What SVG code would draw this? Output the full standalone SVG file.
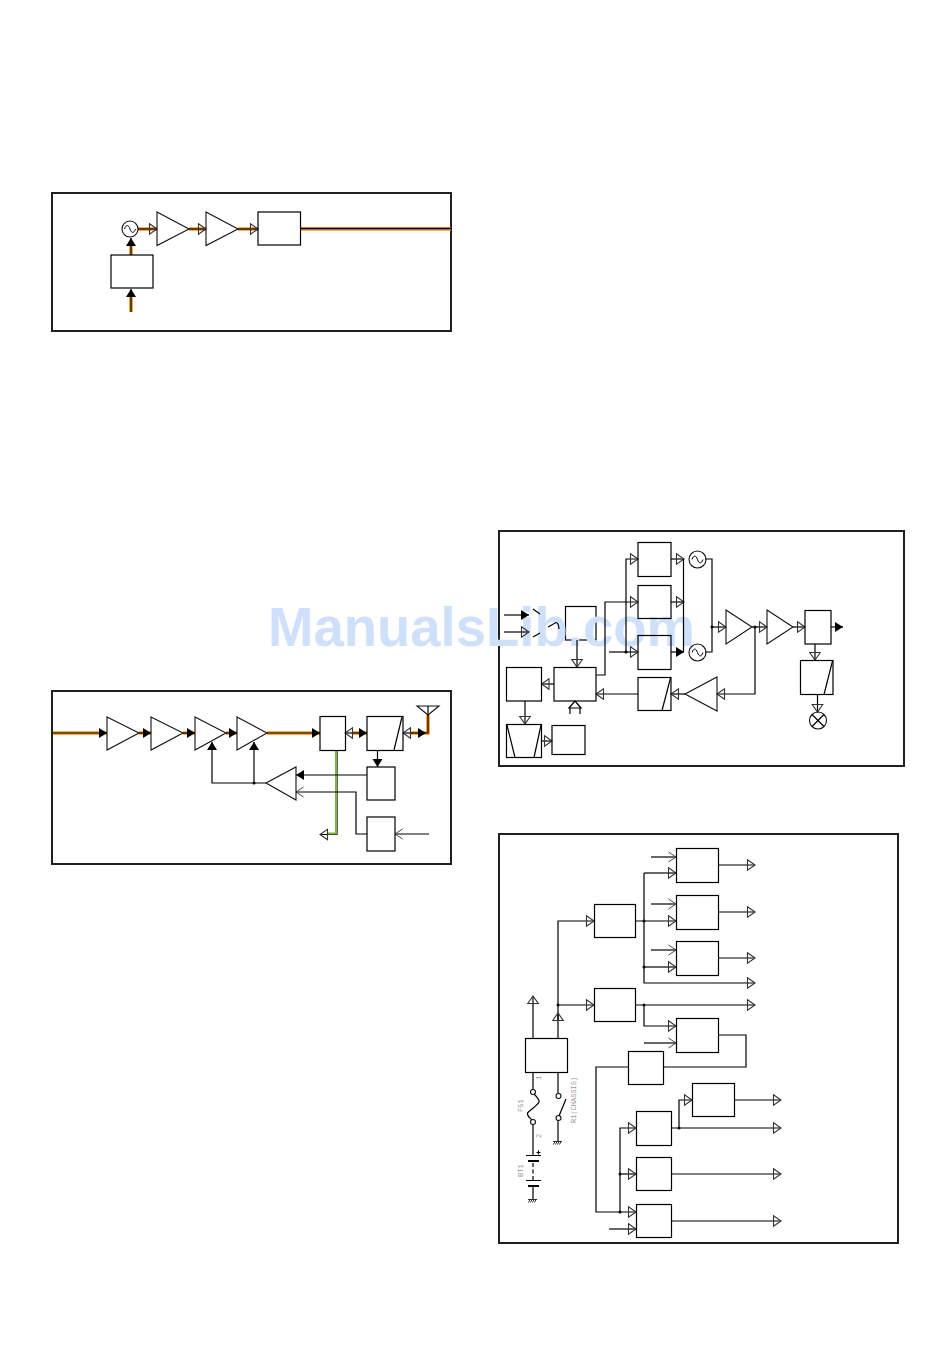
<svg xmlns="http://www.w3.org/2000/svg" width="950" height="1360" viewBox="0 0 950 1360">
<style>
.frame{fill:none;stroke:#231f20;stroke-width:2}
.b{fill:none;stroke:#000;stroke-width:1.2}
.w{fill:none;stroke:#111;stroke-width:1.1}
.c{fill:none;stroke:#000;stroke-width:1.2}
.k{fill:none;stroke:#000;stroke-width:1.5}
.o{fill:none;stroke:#f8921e;stroke-width:3.6}
.g{fill:none;stroke:#7cb342;stroke-width:2}
.d{fill:#000;stroke:none}
.t{font-family:"Liberation Mono",monospace;font-size:7px;fill:#999}
.wm{font-family:"Liberation Sans",Arial,sans-serif;font-weight:700;font-size:56px;fill:#cfe1fa}
</style>
<defs>
<marker id="h" markerUnits="userSpaceOnUse" markerWidth="11" markerHeight="13" refX="8.5" refY="6.500" orient="auto" overflow="visible"><path d="M1,1.200L8.500,6.500L1,11.800Z" fill="none" stroke="#333" stroke-width="1.1"/></marker>
<marker id="s" markerUnits="userSpaceOnUse" markerWidth="11" markerHeight="13" refX="8.5" refY="6.500" orient="auto" overflow="visible"><path d="M0.500,1.500L8.500,6.500L0.500,11.500Z" fill="#000"/></marker>
<marker id="e" markerUnits="userSpaceOnUse" markerWidth="11" markerHeight="13" refX="8.5" refY="6.500" orient="auto" overflow="visible"><path d="M1,1.500L8.500,6.500L1,11.500" fill="none" stroke="#444" stroke-width="1"/></marker>
<path id="gnd" d="M-4.500,0H4.500M-4,3L-2.500,0M-2,3L-0.500,0M0,3L1.500,0M2,3L3.500,0" fill="none" stroke="#000" stroke-width="0.8"/>
<path id="sine" d="M-5.500,0C-4,-4.500 -1.500,-4.500 0,0S4,4.500 5.500,0" fill="none" stroke="#000" stroke-width="1"/>
</defs>

<g id="frames">
<rect class="frame" x="52" y="193" width="399" height="138"/>
<rect class="frame" x="52" y="691" width="399" height="173"/>
<rect class="frame" x="499" y="531" width="405" height="235"/>
<rect class="frame" x="499" y="834" width="399" height="409"/>
</g>
<g id="p3-mixer-switch-box"><rect class="b" x="565.500" y="606.500" width="30.500" height="33.500"/></g>
<text class="wm" x="268" y="645.500" textLength="427" lengthAdjust="spacingAndGlyphs">ManualsLib.com</text>

<g id="connectors">
<!-- panel 1 -->
<path class="o" d="M131,312V297M131,255V245M138,229H157M189,229H206M238,229H258M300,229H451"/>
<path class="c" d="M131,312V289" marker-end="url(#s)"/>
<path class="c" d="M131,255V238" marker-end="url(#s)"/>
<path class="c" d="M138,229H157" marker-end="url(#h)"/>
<path class="c" d="M189,229H206" marker-end="url(#h)"/>
<path class="c" d="M238,229H258" marker-end="url(#h)"/>
<path class="k" d="M300.500,228.500H451"/>
<!-- panel 2 -->
<path class="o" d="M53,733H107M139,733H151M183,733H195M226,733H237M267,733H320M353,733H367M411,733H428V715"/>
<path class="c" d="M53,733H107" marker-end="url(#s)"/>
<path class="c" d="M139,733H151" marker-end="url(#s)"/>
<path class="c" d="M183,733H195" marker-end="url(#s)"/>
<path class="c" d="M226,733H237" marker-end="url(#s)"/>
<path class="c" d="M267,733H320" marker-end="url(#s)"/>
<path class="c" d="M353,733H367" marker-end="url(#s)"/>
<path class="c" d="M353,733H345" marker-end="url(#h)"/>
<path class="c" d="M411,733H403" marker-end="url(#h)"/>
<path class="c" d="M411,733H426" marker-end="url(#s)"/>
<path class="c" d="M426,733H428V715"/>
<path class="c" d="M337,750V834.500H320" marker-end="url(#h)"/>
<path class="g" d="M336,750V833.500H328"/>
<path class="c" d="M377.500,750V767" marker-end="url(#s)"/>
<path class="c" d="M367,775H296" marker-end="url(#s)"/>
<path class="c" d="M266,783H212V742" marker-end="url(#s)"/>
<path class="c" d="M254,783V742" marker-end="url(#s)"/>
<circle class="d" cx="254" cy="783" r="1.500"/>
<path class="c" d="M367,834H356V792H296" marker-end="url(#e)"/>
<path class="c" d="M429,834H395" marker-end="url(#e)"/>
<!-- panel 3 -->
<path class="c" d="M504,615H529" marker-end="url(#s)"/>
<path class="c" d="M504,632H529" marker-end="url(#h)"/>
<path class="c" d="M533,609L540,614M533,637L540,633M548,627L556,622.500Q558.500,622.500 559,629"/>
<path class="c" d="M577,640V667" marker-end="url(#h)"/>
<path class="c" d="M596,675H605V602H638" marker-end="url(#h)"/>
<path class="c" d="M626,652V559H638" marker-end="url(#h)"/>
<path class="c" d="M609,652H638" marker-end="url(#h)"/>
<circle class="d" cx="626" cy="652" r="1.500"/>
<path class="c" d="M671,559H684" marker-end="url(#h)"/>
<path class="c" d="M671,602H684" marker-end="url(#h)"/>
<path class="c" d="M671,652H684" marker-end="url(#s)"/>
<path class="c" d="M683.500,559V652"/>
<path class="c" d="M705,559H712V652H705"/>
<path class="c" d="M712,627H726" marker-end="url(#h)"/>
<circle class="d" cx="712" cy="627" r="1.500"/>
<path class="c" d="M752,627H767" marker-end="url(#h)"/>
<circle class="d" cx="755" cy="627" r="1.500"/>
<path class="c" d="M793,627H805" marker-end="url(#h)"/>
<path class="c" d="M831,627H843" marker-end="url(#s)"/>
<path class="c" d="M815,644V660" marker-end="url(#h)"/>
<path class="c" d="M817.500,694V712" marker-end="url(#h)"/>
<path class="c" d="M755,627V694H717" marker-end="url(#h)"/>
<path class="c" d="M685,694H671" marker-end="url(#h)"/>
<path class="c" d="M638,694H596" marker-end="url(#h)"/>
<path class="c" d="M554,684H541.500" marker-end="url(#h)"/>
<path class="c" d="M525,701V724" marker-end="url(#h)"/>
<path class="c" d="M541.500,741H552" marker-end="url(#h)"/>
<path class="c" d="M570,714V708M580,714V708M569,708L575,701L581,708Z"/>
<!-- panel 4 -->
<path class="c" d="M651,857H676" marker-end="url(#e)"/>
<path class="c" d="M651,904H676" marker-end="url(#e)"/>
<path class="c" d="M651,950H676" marker-end="url(#e)"/>
<path class="c" d="M644,873H676" marker-end="url(#h)"/>
<path class="c" d="M635,921H676" marker-end="url(#h)"/>
<path class="c" d="M644,967H676" marker-end="url(#h)"/>
<path class="c" d="M644,873V983H755" marker-end="url(#h)"/>
<circle class="d" cx="644" cy="921" r="1.500"/>
<circle class="d" cx="644" cy="967" r="1.500"/>
<path class="c" d="M718,865H755" marker-end="url(#h)"/>
<path class="c" d="M718,912H755" marker-end="url(#h)"/>
<path class="c" d="M718,958H755" marker-end="url(#h)"/>
<path class="c" d="M558,1038V921H594" marker-end="url(#h)"/>
<path class="c" d="M558,1005H594" marker-end="url(#h)"/>
<circle class="d" cx="558" cy="1005" r="1.500"/>
<path class="c" d="M635,1005H755" marker-end="url(#h)"/>
<circle class="d" cx="644" cy="1005" r="1.500"/>
<path class="c" d="M644,1005V1026H676" marker-end="url(#h)"/>
<path class="c" d="M644,1043H676" marker-end="url(#e)"/>
<path class="c" d="M718,1035H746V1067H664"/>
<path class="c" d="M628,1067H596V1212H636" marker-end="url(#h)"/>
<path class="c" d="M620,1212V1128H636" marker-end="url(#h)"/>
<path class="c" d="M620,1174H636" marker-end="url(#h)"/>
<path class="c" d="M609,1229H636" marker-end="url(#h)"/>
<circle class="d" cx="620" cy="1174" r="1.500"/>
<circle class="d" cx="620" cy="1212" r="1.500"/>
<path class="c" d="M672,1128H781" marker-end="url(#h)"/>
<circle class="d" cx="679" cy="1128" r="1.500"/>
<path class="c" d="M679,1128V1100H692" marker-end="url(#h)"/>
<path class="c" d="M734,1100H781" marker-end="url(#h)"/>
<path class="c" d="M672,1174H781" marker-end="url(#h)"/>
<path class="c" d="M672,1221H781" marker-end="url(#h)"/>
<path class="c" d="M533,1038V996" marker-end="url(#h)"/>
<path class="c" d="M558,1021V1013" marker-end="url(#h)"/>
<path class="c" d="M533,1072V1089.500M533,1124.500V1155M533,1186V1199M558,1072V1093.500M558,1120.500V1141"/>
<path class="c" d="M533,1163V1180" stroke-dasharray="4 2.500"/>
</g>

<g id="p1-osc"><circle class="w" cx="130" cy="229" r="8"/><use href="#sine" x="130" y="229"/></g>
<g id="p1-ctrl"><rect class="b" x="111" y="255" width="42" height="33"/></g>
<g id="p1-amp1"><polygon class="w" points="157,212 189,229 157,245.500"/></g>
<g id="p1-amp2"><polygon class="w" points="206,212 238,229 206,245.500"/></g>
<g id="p1-out"><rect class="b" x="258" y="212" width="42.500" height="33"/></g>

<g id="p2-amp1"><polygon class="w" points="107,717 139,733 107,750"/></g>
<g id="p2-amp2"><polygon class="w" points="151,717 183,733 151,750"/></g>
<g id="p2-amp3"><polygon class="w" points="195,717 226,733 195,750"/></g>
<g id="p2-amp4"><polygon class="w" points="237,717 267,733 237,750"/></g>
<g id="p2-switch"><rect class="b" x="320" y="716.500" width="25.500" height="34"/></g>
<g id="p2-filter"><rect class="b" x="367" y="716.500" width="36" height="34"/><path class="c" d="M402,717L394,750"/></g>
<g id="p2-antenna"><polygon class="w" points="417,706 439,706 428,715"/><path class="c" d="M428,706V715"/></g>
<g id="p2-det"><rect class="b" x="367" y="767" width="28" height="33"/></g>
<g id="p2-apc"><polygon class="w" points="266,783 296,767 296,800"/></g>
<g id="p2-ctl"><rect class="b" x="367" y="817" width="28" height="34"/></g>

<g id="p3-a"><rect class="b" x="638" y="542.500" width="33" height="34"/></g>
<g id="p3-b"><rect class="b" x="638" y="585.500" width="33" height="33"/></g>
<g id="p3-c"><rect class="b" x="638" y="635.500" width="33" height="34"/></g>
<g id="p3-osc1"><circle class="w" cx="697.500" cy="559.500" r="8.500"/><use href="#sine" x="697.500" y="559.500"/></g>
<g id="p3-osc2"><circle class="w" cx="697.500" cy="652.500" r="8.500"/><use href="#sine" x="697.500" y="652.500"/></g>
<g id="p3-d"><rect class="b" x="554" y="667.500" width="42" height="33.500"/></g>
<g id="p3-e"><rect class="b" x="506.500" y="667.500" width="35" height="33.500"/></g>
<g id="p3-f"><rect class="b" x="506.500" y="724.500" width="35" height="33"/><path class="c" d="M507,725L515,757.500M541,725L534,757.500"/></g>
<g id="p3-g"><rect class="b" x="552" y="725.500" width="33" height="29"/></g>
<g id="p3-h"><rect class="b" x="638" y="677.500" width="33" height="33"/><path class="c" d="M670.500,678L662,710.500"/></g>
<g id="p3-amp-fb"><polygon class="w" points="685,694 717,677 717,711"/></g>
<g id="p3-amp1"><polygon class="w" points="726,610 752,627 726,644"/></g>
<g id="p3-amp2"><polygon class="w" points="767,610 793,627 767,644"/></g>
<g id="p3-out"><rect class="b" x="805" y="610.500" width="26" height="33.500"/></g>
<g id="p3-filter2"><rect class="b" x="800.500" y="660.500" width="32.500" height="34"/><path class="c" d="M832.500,661L824,694.500"/></g>
<g id="p3-mix"><circle class="w" cx="818" cy="720.500" r="8.500"/><path class="c" d="M812,714.500L824,726.500M824,714.500L812,726.500"/></g>

<g id="p4-1"><rect class="b" x="676.500" y="848.500" width="42" height="34"/></g>
<g id="p4-2"><rect class="b" x="676.500" y="895.500" width="42" height="34"/></g>
<g id="p4-3"><rect class="b" x="676.500" y="941.500" width="42" height="34"/></g>
<g id="p4-p"><rect class="b" x="594.500" y="904.500" width="41" height="33"/></g>
<g id="p4-q"><rect class="b" x="594.500" y="988.500" width="41" height="33"/></g>
<g id="p4-r"><rect class="b" x="676.500" y="1018.500" width="42" height="34"/></g>
<g id="p4-s"><rect class="b" x="628.500" y="1051.500" width="35" height="33"/></g>
<g id="p4-t"><rect class="b" x="636.500" y="1111.500" width="35" height="34"/></g>
<g id="p4-u"><rect class="b" x="636.500" y="1157.500" width="35" height="33"/></g>
<g id="p4-v"><rect class="b" x="636.500" y="1204.500" width="35" height="33"/></g>
<g id="p4-w"><rect class="b" x="692.500" y="1083.500" width="42" height="33"/></g>
<g id="p4-x"><rect class="b" x="525.500" y="1038.500" width="42" height="34"/></g>

<g id="fuse-f51">
<circle class="w" cx="533" cy="1092" r="2.500"/><circle class="w" cx="533" cy="1122" r="2.500"/>
<path class="c" d="M534,1094C537,1097 540,1100 539,1102C537,1106 530,1110 527.500,1113C527,1116 530,1118 532,1120"/>
<text class="t" transform="translate(523,1112) rotate(-90)">F51</text>
<text class="t" transform="translate(540.500,1080) rotate(-90)">1</text>
<text class="t" transform="translate(540.500,1138) rotate(-90)">2</text>
</g>
<g id="battery-bt1">
<path class="c" d="M526,1155.500H541M526,1180.500H541"/>
<path class="k" style="stroke-width:2" d="M528,1161H539M528,1186H539"/>
<path class="c" d="M536.500,1152.500H540.500M538.500,1150.500V1154.500"/>
<use href="#gnd" x="532.500" y="1199.500"/>
<text class="t" transform="translate(523,1177) rotate(-90)">BT1</text>
</g>
<g id="switch-r1">
<circle class="w" cx="558.500" cy="1096" r="2.500"/><circle class="w" cx="558.500" cy="1118" r="2.500"/>
<path class="c" d="M559,1116L566,1099"/>
<use href="#gnd" x="557.500" y="1141.500"/>
<text class="t" transform="translate(576,1123) rotate(-90)">R1(CHASSIS)</text>
</g>
</svg>
